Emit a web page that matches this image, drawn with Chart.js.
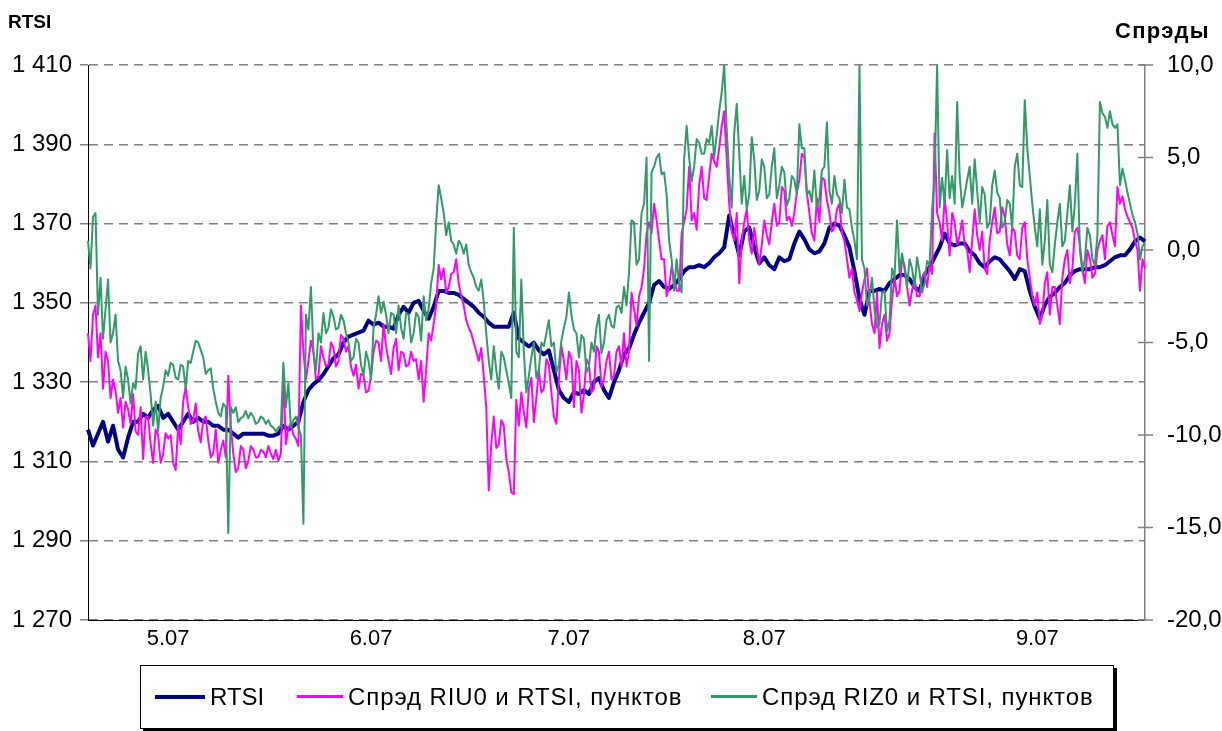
<!DOCTYPE html>
<html><head><meta charset="utf-8">
<script src="https://cdn.jsdelivr.net/npm/chart.js@4/dist/chart.umd.min.js"></script>
<style>
html,body{margin:0;padding:0;background:#fff;}
#wrap{position:relative;width:1222px;height:731px;overflow:hidden;font-family:Arial,"Liberation Sans",sans-serif;color:#000;}
#c{position:absolute;left:0;top:0;}
.ttl{position:absolute;font-weight:bold;line-height:1;white-space:nowrap;}
#legend{position:absolute;left:140px;top:665px;width:972px;height:62px;border:1px solid #000;box-shadow:3px 3px 0 #000;background:#fff;}
.ln{position:absolute;}
.lt{position:absolute;font-size:24px;line-height:24px;top:19px;white-space:nowrap;letter-spacing:0.9px;}
</style></head>
<body>
<div id="wrap">
<canvas id="c" width="1222" height="731"></canvas>
<div class="ttl" style="left:8px;top:12px;font-size:19px;">RTSI</div>
<div class="ttl" style="left:1115px;top:20px;font-size:22px;letter-spacing:1.3px;">Спрэды</div>
<div id="legend">
  <div class="ln" style="left:14px;top:29px;width:50px;height:4px;background:#000080;"></div>
  <div class="lt" style="left:69px;letter-spacing:0;">RTSI</div>
  <div class="ln" style="left:156px;top:29px;width:46px;height:3px;background:#ff00ff;"></div>
  <div class="lt" style="left:207px;">Спрэд RIU0 и RTSI, пунктов</div>
  <div class="ln" style="left:570px;top:29px;width:46px;height:3px;background:#339966;"></div>
  <div class="lt" style="left:621px;">Спрэд RIZ0 и RTSI, пунктов</div>
</div>
</div>
<script>
// ---- data ----
// x positions: 423 intraday slots; day labels sit at these slots
const dayLabels = ['5.07', '6.07', '7.07', '8.07', '9.07'];
const dayLabelIndex = [32, 113, 192, 270, 379];

// RTSI, read at every second slot (the gaps between are bridged by the line)
const rtsi = [1318,1314,1317,1320,1315,1319,1313,1311,1316,1320,
1320,1322,1321,1323,1324,1321,1322,1320,1318,1320,
1322,1320,1321,1320,1320,1319,1319,1318,1318,1317,
1316,1317,1317,1317,1317,1317,1316.5,1316.5,1317,1319,
1318,1319,1320,1325,1328,1329.5,1330.5,1332,1334,1336,
1337,1340,1341.5,1342,1342.5,1343,1345.5,1344.5,1345,1344,
1344,1343.5,1347,1349,1347.5,1350,1350.5,1348,1346,1349,
1353,1353,1352.5,1352.5,1352,1351,1350,1349,1347.5,1346.5,
1345,1344,1344,1344,1344,1347.5,1341,1340,1339,1340,
1338,1337,1338,1333,1328,1326,1325,1327.5,1327,1328,
1327,1330,1331,1328,1326,1330,1333,1337,1338.5,1342,
1345,1347.5,1350,1354.5,1355.5,1354,1353.5,1354.5,1356,1358,
1359,1359,1359.5,1359,1360,1361.5,1362.5,1364,1372,1367,
1362,1368,1369,1364,1360,1361.5,1359.5,1358.5,1361.5,1360.5,
1361,1365,1368,1366,1363.5,1362.5,1363,1365,1369,1370,
1369.5,1367,1364,1358,1351,1347,1353,1353,1353.5,1353,
1355,1356,1357,1357,1356,1354,1353,1357,1359,1361.5,
1364,1367.5,1365,1364.5,1365,1365,1363,1362,1360,1359,
1360.5,1361.5,1361,1359.5,1358,1356,1358.5,1358,1353,1349,
1346,1349.5,1351.5,1352.5,1354,1355,1357,1358,1358.5,1358.5,
1358.5,1359,1359,1359.5,1360.5,1361.5,1362,1362,1363.5,1365.5,
1366.5,1365.5];

// RIU0 spread: values at the even slots and at the odd slots between them
const spreadRIU0 = [-4.5,-3.5,-5.8,-7.5,-6,-7,-8.8,-9.6,-8.6,-7.8,
-10,-11.3,-9,-11.5,-10,-11,-10.2,-11.5,-9.5,-8.2,
-8.5,-9.2,-9.8,-9.2,-10.3,-11,-11.5,-10.3,-6.8,-11,
-11.8,-10.8,-11.4,-10.8,-11.2,-10.9,-10.6,-11.3,-11.4,-6.8,
-9.6,-10,-10.6,-5.5,-6,-5.5,-6.8,-5.8,-6.2,-5.3,
-6,-4.8,-5.2,-6.8,-7.5,-6.8,-7.6,-5.5,-5,-4,
-6,-5.3,-6.5,-5.6,-6.2,-6,-7,-8.2,-4.5,-4,
-0.8,-1,-2,-1.2,-1.8,-3,-4.2,-5,-6,-6.8,
-13,-9,-10.5,-9.5,-12,-13.2,-9.5,-8.8,-7.5,-9.3,
-6.5,-7.5,-6.2,-9,-7,-6,-5.5,-8.5,-6.5,-7.8,
-6.2,-7.5,-5.5,-7,-5.5,-6.8,-5.2,-4.5,-5.5,-3.2,
-2.5,-1,1.5,2.5,0.5,-0.5,-2,-1.5,-2.2,1.5,
4.5,2,3.5,2.8,4,4.8,5.5,7.5,2.5,0.5,
-1.8,1.5,0.5,1.2,-0.8,1.6,0.3,2.5,1.5,3.2,
1.8,2,3.8,5,2,0.5,1.5,3.8,2,1.2,
2.5,0.5,-1.5,-2.3,-3.3,-1.6,-2.8,-4.5,-5.3,-3.5,
-4.5,-1.5,-2.2,-0.8,-3,-1.5,-2.5,-1.2,-0.8,6.3,
1.5,2.8,-0.3,1.5,0.8,0.3,-1.2,2.2,0,-1,
0.5,2.3,1,1.8,-0.3,1,-0.5,1.5,-1.5,-3,
-4,-1.8,-3.5,-2,-4,-0.5,-1.8,1,0.3,-1.8,
-0.5,-1.3,0.5,-0.5,1.5,0.2,2.5,2.2,1.5,0.5,
-2.2,-1];
const spreadRIU0Mid = [-6,-3,-4.5,-5.5,-8,-7.6,-8,-8.2,-9.4,-9.8,
-8.5,-9,-10.5,-9.7,-11.5,-9.9,-10,-11.9,-10.5,-7.4,
-9.4,-8.3,-10.4,-9,-11.2,-9.7,-10.8,-11.2,-9.5,-12,
-10.6,-11.8,-10.6,-11.2,-10.8,-11.2,-11,-10.8,-11,-10.5,
-9.4,-10.2,-3,-7,-4.9,-7,-5.2,-6.3,-5,-6.3,
-4.6,-5.5,-6.3,-6.2,-6.7,-7.7,-6.8,-4.9,-6,-5.2,
-6.7,-4.8,-5.5,-6.3,-5.5,-5.9,-6,-6.5,-4.9,-3,
-1.6,-2.3,-1.3,-0.5,-2.5,-3.8,-4.5,-5.5,-5.3,-8.5,
-10.5,-10.7,-9.2,-11.3,-13.1,-8.1,-7.7,-9.6,-6.9,-8,
-7.7,-5.9,-7.7,-9.4,-5.2,-7,-5.9,-6,-8.8,-5.9,
-7.7,-5.2,-7.4,-6,-7,-5.5,-6.3,-6.3,-2.3,-4.1,
-2,0.9,0.9,1.6,-0.5,-2.5,-0.9,-2.2,0.9,2.2,
1.6,1.1,4.5,2.7,5.2,4.5,6.7,4.9,1,2,
0.5,2.2,-0.2,0.2,0.3,0.8,1.5,1.3,3.4,1.6,
1.3,3.1,5.2,3.1,0.9,2.8,3.9,2.7,1,2.2,
0.9,-0.5,-1,-2.7,-2.3,-1,-4,-2.3,-4,-4.9,
-2.7,-2.5,-0.5,-2,-2.2,-2.5,-1.5,-2,-1.3,2,
0.5,1.5,2,0.3,1.6,0,0.5,0.8,1,-1.3,
1.5,0.9,2.3,0.3,1.2,-0.3,1.2,-0.5,-2.5,-2.3,
-3.5,-1.2,-2,-3,-1.5,0,-1,1.2,-1,0,
-1.5,0,0.8,1.3,0.8,3.4,2.9,1.8,1.2,0,
-0.5];

// RIZ0 spread: values at the even slots and at the odd slots between them
const spreadRIZ0 = [0.5,1.8,-3.5,-4.8,-1.6,-4.5,-6,-8,-7,-7.2,
-5.6,-7,-6.5,-9.5,-9.8,-7.4,-6.8,-6.2,-7,-6.3,
-6,-5.5,-5,-5.8,-6.5,-7.5,-8.8,-8.3,-15.3,-8.8,
-9.3,-9,-9.1,-9,-9.3,-9.1,-9.2,-9.6,-9.6,-6.1,
-7.2,-9.2,-9.6,-14.8,-4.3,-5.5,-4.5,-3.4,-4.2,-3.6,
-4.2,-3.8,-5,-5.8,-5,-6.8,-6,-4.2,-2.5,-2.8,
-4.5,-3.5,-3,-4.8,-3.5,-4.5,-3.6,-2.5,-3.2,-1,
3.5,2,1.5,0.3,0.5,-0.2,-0.8,-1.5,-2.2,-2.8,
-6,-5.2,-7.5,-5.8,-7.2,1.2,-5.8,-5.5,-6.8,-5,
-6.5,-5.2,-3.8,-5,-6.2,-4.2,-2.3,-4.3,-5.8,-4.8,
-6.3,-5.5,-3.5,-5,-3.5,-4.2,-3,-2,-1.2,1.5,
-0.5,2.5,-6,4.5,5.2,4.2,0.5,-2.2,-1.8,4.9,
5,4.5,5.8,5.2,5.8,5,7.5,10,4,6.3,
5.2,4,3,4.9,3.2,4.5,3,5.5,3.5,4.2,
2.8,3.8,6.8,5.5,3.2,4.3,2.8,4.5,3.2,4,
2.8,3.8,2.2,0.5,10,-1,-2.5,-3.2,-4,-2.2,
-3.8,-1.5,-1.2,-1,-0.5,-2,-1.2,-1.8,-0.8,3.9,
2.3,2.5,2.8,2.5,4,3,4.5,4.9,1.5,3,
1.5,4.3,2.8,1.5,2.5,4.5,3.5,8.1,4,1.2,
2.2,0.5,-0.8,0.3,2.5,0.5,3.5,2.5,0,-0.5,
0.8,-0.8,8,7.2,7.5,6.6,3.5,3.8,2.5,1.5,
-0.5,0.4];
const spreadRIZ0Mid = [-1,2,-1.5,-3.2,-5,-3.5,-6.5,-6.3,-8.3,-7.5,
-5.2,-5.5,-7.8,-8.2,-8,-6.5,-6.1,-6.9,-6.2,-7.5,
-6.1,-4.9,-5.4,-6.7,-6.4,-8.2,-9,-8.5,-8.5,-8.5,
-9.1,-8.7,-8.8,-9.4,-9,-9.4,-9.5,-9.8,-9.5,-8.5,
-9.6,-9,-10,-3.5,-2,-6.5,-5,-4.5,-3.2,-4.3,
-3.5,-4.5,-6,-4.8,-6.2,-5.5,-7,-3.5,-3.4,-3.5,
-3.4,-4.5,-4.2,-3.4,-5,-3.4,-4.9,-3.8,-1.8,1.5,
2.8,0.8,0.5,-0.2,0.3,0.3,-1.2,-2,-1.6,-4.5,
-7,-6.5,-5.5,-6.5,-8,-5.5,-1.6,-7.7,-5.8,-6.9,
-5,-4.5,-5.2,-6.6,-4.9,-3.6,-3.5,-4.5,-4.6,-6.6,
-5,-4.2,-5.6,-3.8,-4.1,-3.1,-3.4,-3,1.6,-0.8,
2,5,4.2,5,4.1,3,-0.5,-0.5,-2.3,6.7,
3.7,6,5.2,6,6.7,6.2,8.5,6.5,2.3,7.9,
2.5,2.2,6.1,2.7,4.9,2.8,4.5,2.8,4.5,2.4,
4,3,5.5,3,2.6,2.3,4.3,6.9,2.5,3,
2,2.3,1.2,-0.5,-0.5,-3,-1.5,-4.2,-2.3,-4.4,
-1,1.6,-0.2,-2,-1,-0.4,-2.3,-0.6,2.2,10,
3.9,5.4,4,8,2.3,3.8,2.5,3.2,3.4,1.2,
3.5,3.1,1.2,2.7,1.2,5.2,3.4,5.5,2.5,0.2,
-0.8,2.7,-1.2,1.5,0.2,2,1,5.2,-1.2,1.2,
-0.5,0.8,7.4,6.6,6.8,6.8,4.4,3.1,1.9,0.9,
0.2];

const rtsiTicks = {min: 1270, max: 1410, step: 20};
const spreadTicks = {min: -20, max: 10, step: 5};

// ---- build ----
function interleave(main, mid) {
  const out = [];
  main.forEach((v, i) => { out.push(v); if (i < mid.length) out.push(mid[i]); });
  return out;
}
const rtsiData = interleave(rtsi, rtsi.slice(1).map(() => null));
const riu0Data = interleave(spreadRIU0, spreadRIU0Mid);
const riz0Data = interleave(spreadRIZ0, spreadRIZ0Mid);

const categories = rtsiData.map(() => '');
dayLabelIndex.forEach((idx, k) => { categories[idx] = dayLabels[k]; });

const FF = 'Arial, "Liberation Sans", sans-serif';
const fmtRtsi = v => Math.floor(v / 1000) + ' ' + String(v % 1000).padStart(3, '0');
const fmtSpread = v => v.toFixed(1).replace('.', ',');

const crossTicks = {
  id: 'crossTicks',
  afterDraw(chart) {
    const s = chart.scales.y1, ctx = chart.ctx;
    ctx.save();
    ctx.strokeStyle = '#808080';
    ctx.lineWidth = 1.5;
    s.ticks.forEach(t => {
      const y = s.getPixelForValue(t.value);
      ctx.beginPath();
      ctx.moveTo(s.left - 7, y);
      ctx.lineTo(s.left + 8, y);
      ctx.stroke();
    });
    ctx.restore();
  }
};

new Chart(document.getElementById('c'), {
  type: 'line',
  data: {
    labels: categories,
    datasets: [
      {label: 'RTSI', data: rtsiData, yAxisID: 'y', borderColor: '#000080', borderWidth: 4, spanGaps: true, order: 3},
      {label: 'Спрэд RIU0 и RTSI, пунктов', data: riu0Data, yAxisID: 'y1', borderColor: '#ff00ff', borderWidth: 2, order: 2},
      {label: 'Спрэд RIZ0 и RTSI, пунктов', data: riz0Data, yAxisID: 'y1', borderColor: '#339966', borderWidth: 2, order: 1}
    ]
  },
  options: {
    responsive: false,
    devicePixelRatio: 1,
    animation: false,
    events: [],
    layout: {padding: {top: 65, left: 0, right: 0, bottom: 0}},
    elements: {
      point: {radius: 0},
      line: {tension: 0, borderJoinStyle: 'round', fill: false}
    },
    plugins: {legend: {display: false}, tooltip: {enabled: false}, title: {display: false}},
    scales: {
      x: {
        type: 'category',
        grid: {display: false, drawTicks: false},
        border: {display: true, color: '#000', width: 1},
        ticks: {autoSkip: false, maxRotation: 0, minRotation: 0, padding: 6, color: '#000', font: {size: 22, family: FF}},
        afterFit(s) { s.height = 111; }
      },
      y: {
        position: 'left',
        min: rtsiTicks.min, max: rtsiTicks.max,
        ticks: {stepSize: rtsiTicks.step, padding: 8, color: '#000', font: {size: 24, family: FF}, callback: v => fmtRtsi(v)},
        grid: {color: '#808080', lineWidth: 1.5, tickLength: 8, tickColor: '#808080'},
        border: {display: true, color: '#000', width: 1, dash: [9, 6]},
        afterFit(s) { s.width = 88; }
      },
      y1: {
        position: 'right',
        min: spreadTicks.min, max: spreadTicks.max,
        ticks: {stepSize: spreadTicks.step, padding: 22, color: '#000', font: {size: 24, family: FF}, callback: v => fmtSpread(v)},
        grid: {drawOnChartArea: false, drawTicks: false},
        border: {display: true, color: '#808080', width: 1.5},
        afterFit(s) { s.width = 77; }
      }
    }
  },
  plugins: [crossTicks]
});
</script>
</body></html>
